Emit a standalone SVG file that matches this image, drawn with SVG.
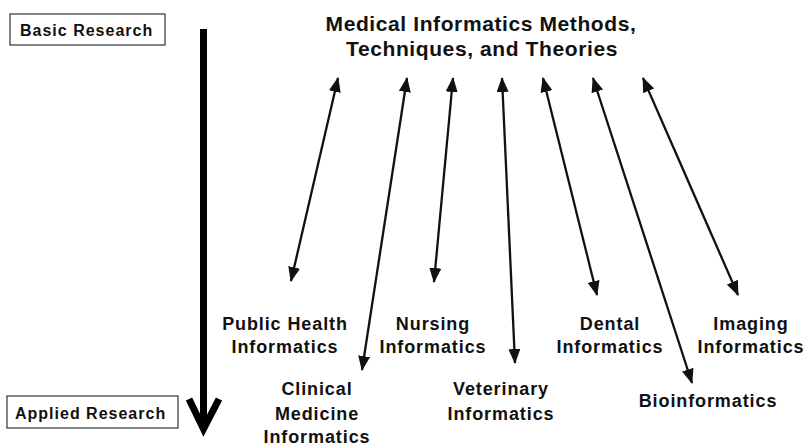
<svg xmlns="http://www.w3.org/2000/svg" width="806" height="447" viewBox="0 0 806 447">
  <style>
    text { font-family: "Liberation Sans", Arial, sans-serif; font-weight: bold; fill: #111; }
    .box { fill: #fff; stroke: #333; stroke-width: 1.2; }
    .boxlabel { font-size: 16px; letter-spacing: 1px; }
    .title { font-size: 21px; letter-spacing: 0.6px; text-anchor: middle; }
    .label { font-size: 18px; letter-spacing: 0.9px; text-anchor: middle; }
    .link { stroke: #111; stroke-width: 2.3; fill: none; marker-start: url(#head); marker-end: url(#head); }
    .axis { stroke: #000; stroke-width: 7; fill: none; }
  </style>
  <defs>
    <marker id="head" markerUnits="userSpaceOnUse" markerWidth="15" markerHeight="12" refX="14" refY="6" orient="auto-start-reverse" viewBox="0 0 15 12">
      <path d="M0,0 L15,6 L0,12 Z" fill="#111"/>
    </marker>
  </defs>

  <rect width="806" height="447" fill="#fff"/>

  <!-- research axis -->
  <g id="axis">
    <g id="basic-research">
      <rect class="box" x="10" y="14" width="155" height="31"/>
      <text class="boxlabel" x="20" y="36">Basic Research</text>
    </g>
    <g id="applied-research">
      <rect class="box" x="7" y="396" width="171" height="32"/>
      <text class="boxlabel" x="15" y="419">Applied Research</text>
    </g>
    <path class="axis" d="M203.5,29 L203.5,426"/>
    <path class="axis" d="M189,399 L203.5,429 L219,399" stroke-linejoin="miter"/>
  </g>

  <!-- core discipline -->
  <g id="methods">
    <text class="title" x="481" y="31">Medical Informatics Methods,</text>
    <text class="title" x="482" y="56">Techniques, and Theories</text>
  </g>

  <!-- application areas -->
  <g id="public-health">
    <text class="label" x="285" y="330">Public Health</text>
    <text class="label" x="285" y="353">Informatics</text>
  </g>
  <g id="clinical-medicine">
    <text class="label" x="317" y="395">Clinical</text>
    <text class="label" x="317" y="420">Medicine</text>
    <text class="label" x="317" y="443">Informatics</text>
  </g>
  <g id="nursing">
    <text class="label" x="433" y="330">Nursing</text>
    <text class="label" x="433" y="353">Informatics</text>
  </g>
  <g id="veterinary">
    <text class="label" x="501" y="395">Veterinary</text>
    <text class="label" x="501" y="420">Informatics</text>
  </g>
  <g id="dental">
    <text class="label" x="610" y="330">Dental</text>
    <text class="label" x="610" y="353">Informatics</text>
  </g>
  <g id="bioinformatics">
    <text class="label" x="708" y="407">Bioinformatics</text>
  </g>
  <g id="imaging">
    <text class="label" x="751" y="330">Imaging</text>
    <text class="label" x="751" y="353">Informatics</text>
  </g>

  <!-- two-way links between methods and each area -->
  <g id="connectors">
    <line class="link" x1="338" y1="78" x2="291" y2="281"/>
    <line class="link" x1="407" y1="78" x2="362" y2="370"/>
    <line class="link" x1="453" y1="78" x2="434" y2="282"/>
    <line class="link" x1="502" y1="78" x2="515" y2="363"/>
    <line class="link" x1="543" y1="78" x2="597" y2="295"/>
    <line class="link" x1="593" y1="78" x2="692" y2="383"/>
    <line class="link" x1="643" y1="78" x2="738" y2="295"/>
  </g>
</svg>
